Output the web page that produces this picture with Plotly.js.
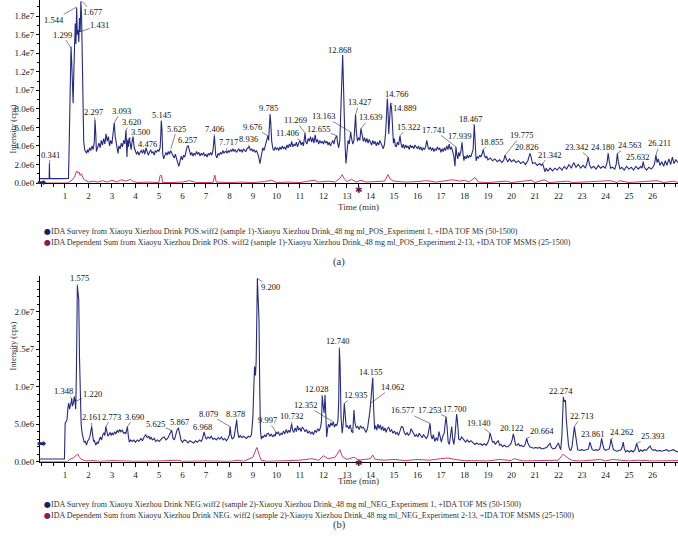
<!DOCTYPE html>
<html>
<head>
<meta charset="utf-8">
<script src="https://cdn.plot.ly/plotly-3.0.1.min.js"></script>
<style>html,body{margin:0;padding:0;background:#fff;}#chart{width:678px;height:540px;}</style>
</head>
<body>
<div id="chart"></div>
<script>
// ---------- DATA (intensity values in units of 1e6 cps) ----------
// Panel (a) POS: IDA survey (blue)
const tSurveyA = [-0.06,0.3,0.33,0.341,0.355,0.8,1.12,1.15,1.17,1.2,1.23,1.26,1.29,1.32,1.35,1.38,1.41,1.44,1.47,1.5,1.53,1.56,1.59,1.62,1.65,1.68,1.71,1.74,1.77,1.8,1.84,1.88,
1.92,1.96,2.0,2.05,2.1,2.15,2.2,2.25,2.28,2.31,2.34,2.4,2.45,2.5,2.55,2.6,2.65,2.7,2.75,2.8,2.85,2.9,2.95,3.0,3.05,3.1,3.14,3.18,3.22,3.26,3.3,3.35,3.4,3.45,3.5,3.55,3.6,3.62,3.64,3.67,3.7,3.74,3.78,3.82,3.86,3.9,3.95,
4.0,4.05,4.1,4.15,4.2,4.25,4.3,4.35,4.4,4.45,4.5,4.55,4.6,4.65,4.7,4.75,4.8,4.85,4.9,4.95,5.0,5.05,5.08,5.1,5.13,5.16,5.2,5.25,5.3,5.35,5.4,5.45,5.5,5.55,5.6,5.65,5.7,5.75,5.8,5.85,5.9,5.95,
6.0,6.05,6.1,6.15,6.2,6.25,6.3,6.35,6.4,6.45,6.5,6.55,6.6,6.65,6.7,6.75,6.8,6.85,6.9,6.95,7.0,7.05,7.1,7.15,7.2,7.25,7.3,7.33,7.36,7.39,7.42,7.47,7.52,7.57,7.62,7.67,7.72,7.77,7.82,7.86,7.9,7.95,
8.0,8.05,8.1,8.15,8.2,8.25,8.3,8.35,8.4,8.45,8.5,8.55,8.6,8.65,8.7,8.75,8.8,8.85,8.9,8.95,9.0,9.05,9.1,9.15,9.2,9.25,9.3,9.33,9.37,9.42,9.47,9.52,9.57,9.62,9.64,9.67,9.7,9.73,9.76,9.8,9.85,9.9,9.95,
10.0,10.05,10.1,10.15,10.2,10.25,10.3,10.35,10.4,10.45,10.5,10.55,10.6,10.65,10.7,10.75,10.8,10.85,10.9,10.95,11.0,11.05,11.1,11.15,11.2,11.22,11.25,11.3,11.35,11.4,11.45,11.5,11.55,11.6,11.65,11.7,11.75,11.8,11.85,11.9,11.95,
12.0,12.05,12.1,12.15,12.2,12.25,12.3,12.35,12.4,12.45,12.5,12.55,12.57,12.6,12.65,12.7,12.74,12.78,12.82,12.85,12.88,12.92,12.96,13.0,13.05,13.1,13.16,13.2,13.25,13.3,13.34,13.37,13.4,13.45,13.5,13.55,13.6,13.65,13.7,13.75,13.8,13.85,13.9,13.95,
14.0,14.05,14.1,14.15,14.2,14.25,14.3,14.35,14.4,14.45,14.5,14.55,14.6,14.65,14.69,14.72,14.75,14.78,14.82,14.86,14.9,14.94,14.98,15.02,15.06,15.1,15.15,15.2,15.26,15.3,15.35,15.4,15.45,15.5,15.55,15.6,15.65,15.7,15.75,15.8,15.85,15.9,15.95,
16.0,16.05,16.1,16.15,16.2,16.25,16.3,16.35,16.4,16.45,16.5,16.55,16.6,16.65,16.7,16.75,16.8,16.85,16.9,16.95,17.0,17.05,17.1,17.15,17.2,17.25,17.3,17.35,17.4,17.45,17.5,17.55,17.6,17.64,17.68,17.72,17.76,17.8,17.85,17.9,17.94,17.98,
18.02,18.07,18.12,18.17,18.22,18.27,18.32,18.37,18.42,18.45,18.5,18.55,18.6,18.65,18.7,18.75,18.8,18.85,18.9,18.95,19.0,19.1,19.2,19.3,19.4,19.5,19.6,19.68,19.73,19.78,19.85,19.92,
20.0,20.1,20.2,20.3,20.4,20.5,20.6,20.7,20.75,20.79,20.84,20.9,21.0,21.1,21.2,21.28,21.33,21.38,21.43,21.48,21.55,21.65,21.75,21.85,21.95,22.05,22.15,22.25,22.35,22.45,22.55,22.65,22.75,22.85,22.95,
23.05,23.15,23.22,23.27,23.32,23.4,23.5,23.6,23.7,23.8,23.9,24.0,24.07,24.12,24.16,24.22,24.3,24.4,24.46,24.51,24.55,24.62,24.7,24.8,24.9,25.0,25.1,25.2,25.3,25.4,25.5,25.56,25.61,25.66,25.75,25.85,25.95,
26.05,26.1,26.15,26.2,26.25,26.32,26.4,26.48,26.55,26.62,26.7,26.78,26.85,26.92,27.0,27.09];
const vSurveyA = [0.47,0.47,0.5,2.1,0.5,0.47,0.5,0.5,2.5,6.5,11,14.7,13,9,8.6,12,15.5,17.2,15,18.9,16,16.5,15.2,17.8,16.3,19.6,18,12,7,4.5,3.6,3.4,
3.2,3.6,3.3,3.8,3.5,4.0,3.6,4.4,6.8,5.5,3.4,3.9,4.3,3.8,4.6,4.1,4.8,4.2,5.3,4.5,5.0,4.0,4.6,4.2,5.2,6.5,5.0,4.4,3.6,3.2,4.0,3.7,4.3,3.9,4.6,4.2,5.7,4.8,2.8,4.6,3.9,4.9,4.3,3.6,4.5,5.0,3.8,
3.5,3.1,3.4,3.0,3.3,3.5,3.2,3.6,3.1,3.8,3.4,3.0,3.3,3.6,3.2,3.4,3.0,3.5,3.3,3.6,3.4,3.8,5.2,6.7,5.8,3.2,2.6,2.9,3.3,3.0,3.4,3.1,3.5,3.2,3.0,2.7,3.1,2.5,2.2,1.8,2.6,2.9,
2.5,3.0,2.8,3.4,3.9,4.0,3.4,3.0,3.3,2.9,3.2,3.0,3.4,3.1,3.3,2.9,3.2,3.0,3.3,2.9,3.1,2.8,3.2,3.0,3.3,3.0,3.5,4.4,5.1,4.0,3.0,2.7,3.2,3.0,3.3,3.1,3.5,3.2,3.4,3.4,3.2,3.5,
3.3,3.6,3.4,3.7,3.4,3.6,3.3,3.5,3.7,3.4,3.6,3.3,3.7,3.5,3.4,3.7,3.8,3.9,3.5,3.7,3.4,3.6,3.3,3.5,3.2,2.8,2.1,2.6,3.4,3.8,3.5,3.9,4.3,4.8,5.1,4.6,6.0,7.4,6.5,4.5,3.7,3.5,3.9,
3.6,3.8,3.5,3.9,3.6,4.0,3.7,3.9,3.6,4.1,3.8,4.2,3.9,4.5,3.9,4.2,4.0,4.4,3.9,4.3,4.6,4.1,4.4,4.0,4.8,5.4,4.5,4.2,4.8,4.5,5.0,4.4,4.9,4.3,5.2,4.4,4.7,4.2,4.6,4.3,4.5,
4.2,4.6,4.3,4.5,4.1,4.4,4.0,4.3,4.6,4.2,4.8,5.0,5.1,4.4,3.8,4.6,7.5,10.5,13.8,11,7,4.2,2.1,3.5,4.6,4.2,5.5,4.8,4.2,4.6,5.8,7.4,5.6,4.5,4.9,4.6,5.9,5.2,4.5,4.9,4.4,4.8,4.3,4.7,
4.4,4.1,4.6,4.2,4.5,4.0,4.4,4.1,4.6,4.3,4.0,3.7,4.2,5.5,7.5,9.1,7.8,5.3,7.0,8.6,8.1,6.0,4.3,4.8,4.0,3.9,4.4,4.1,5.1,4.3,3.8,4.2,3.7,4.1,3.8,4.0,3.6,4.1,3.8,4.0,3.7,4.1,3.9,
3.7,4.0,3.6,3.9,3.5,3.8,3.6,3.9,4.6,3.9,3.6,3.9,3.5,3.8,3.4,3.7,3.5,3.9,3.6,3.8,3.3,3.7,3.4,3.8,3.5,4.0,3.6,4.2,3.6,3.9,3.4,2.9,1.8,3.9,3.0,2.6,3.3,2.9,3.4,4.4,3.2,2.4,
2.9,2.6,3.0,2.7,3.0,2.8,3.2,3.6,6.3,4.5,2.4,2.8,2.7,3.0,2.8,3.1,3.6,3.0,2.7,2.9,2.5,2.7,2.4,2.6,2.3,2.5,2.2,2.5,3.0,2.6,2.3,2.6,
2.3,2.5,2.2,2.4,2.1,2.3,2.0,2.4,2.9,3.2,2.8,2.1,2.2,1.9,2.1,1.9,2.1,1.5,1.2,1.6,1.3,1.6,1.3,1.6,1.4,1.7,1.4,1.8,1.5,2.0,1.6,2.2,1.7,2.0,1.6,
1.9,1.6,2.2,2.8,2.0,1.6,1.8,1.5,1.9,1.6,1.8,1.6,2.2,3.2,2.4,1.6,1.7,1.5,2.0,3.2,2.3,1.5,1.7,1.4,1.8,1.5,1.7,1.4,1.8,1.5,1.8,1.6,2.3,1.7,1.4,1.7,1.5,
1.8,2.2,3.0,2.2,2.6,1.9,2.3,1.8,2.4,1.9,2.6,2.0,2.8,2.1,2.5,2.2];
// Panel (a) POS: IDA dependent sum (pink)
const tDepA = [-0.06,1.1,1.2,1.3,1.4,1.5,1.55,1.6,1.65,1.7,1.8,1.9,2.0,2.2,2.4,2.6,2.8,3.0,3.2,3.4,3.6,3.8,3.9,4.1,4.5,5.0,5.05,5.12,5.15,5.6,6.0,6.3,6.6,7.3,7.38,7.44,8.0,8.5,9.0,9.5,9.8,10.0,10.5,11.0,11.3,11.6,11.8,12.2,12.5,12.7,12.8,12.9,13.0,13.2,13.4,13.6,13.8,14.2,14.6,14.75,14.85,15.0,15.5,16.0,16.4,16.8,17.2,17.5,17.8,18.0,18.2,18.45,18.6,19.0,19.8,20.0,20.85,21.0,21.4,21.6,22.4,22.6,23.4,24.2,24.5,24.6,25.0,25.7,26.2,26.5,26.9,27.09];
const vDepA = [0,0,0.15,0.3,0.6,1.3,1.1,1.2,0.8,1.0,0.4,0.2,0.1,0.2,0.1,0.25,0.1,0.3,0.1,0.35,0.2,0.4,0.15,0.05,0.1,0.05,0.8,0.8,0.05,0.05,0.1,0.25,0.05,0.05,0.85,0.1,0.05,0.1,0.05,0.15,0.3,0.05,0.1,0.05,0.2,0.3,0.1,0.2,0.1,0.5,0.9,0.4,0.15,0.4,0.1,0.3,0.1,0.15,0.2,0.9,0.4,0.2,0.1,0.15,0.25,0.1,0.2,0.35,0.2,0.3,0.1,0.6,0.1,0.05,0.2,0.05,0.3,0.05,0.35,0.05,0.2,0.05,0.15,0.25,0.05,0.25,0.05,0.2,0.25,0.05,0.2,0.05];

// Panel (b) NEG: IDA survey (blue)
const tSurveyB = [-0.06,0.9,0.98,1.01,1.05,1.09,1.13,1.16,1.2,1.23,1.27,1.29,1.32,1.36,1.4,1.43,1.46,1.49,1.51,1.53,1.56,1.59,1.62,1.65,1.69,1.73,1.77,1.82,1.87,1.92,1.97,
2.01,2.06,2.11,2.14,2.18,2.22,2.26,2.31,2.37,2.42,2.47,2.51,2.56,2.61,2.66,2.7,2.74,2.78,2.83,2.87,2.92,2.97,3.01,3.06,3.12,3.17,3.23,3.28,3.33,3.38,3.44,3.5,3.55,3.59,3.66,3.7,3.74,3.8,3.86,3.94,
4.0,4.08,4.15,4.23,4.3,4.37,4.44,4.5,4.57,4.62,4.66,4.72,4.8,4.87,4.94,5.01,5.08,5.16,5.23,5.3,5.37,5.45,5.5,5.54,5.6,5.66,5.72,5.77,5.83,5.87,5.94,
6.0,6.08,6.16,6.24,6.32,6.4,6.48,6.56,6.64,6.73,6.8,6.86,6.92,6.97,7.02,7.09,7.16,7.23,7.3,7.37,7.44,7.52,7.59,7.66,7.73,7.8,7.87,7.94,
8.0,8.03,8.07,8.12,8.2,8.26,8.31,8.35,8.4,8.46,8.53,8.6,8.66,8.73,8.8,8.87,8.94,9.0,9.04,9.07,9.11,9.14,9.17,9.19,9.22,9.26,9.29,9.32,9.36,9.4,9.44,9.5,9.55,9.6,9.66,9.72,9.78,9.84,9.9,9.95,9.98,
10.02,10.08,10.14,10.2,10.25,10.3,10.36,10.42,10.47,10.52,10.58,10.62,10.65,10.69,10.74,10.8,10.85,10.9,10.95,11.0,11.05,11.1,11.16,11.22,11.28,11.34,11.4,11.46,11.52,11.58,11.64,11.7,11.76,11.82,11.88,11.92,11.95,11.99,
12.03,12.07,12.1,12.14,12.18,12.22,12.27,12.32,12.37,12.42,12.47,12.52,12.57,12.62,12.65,12.68,12.71,12.75,12.8,12.84,12.89,12.93,12.97,13.02,13.08,13.14,13.2,13.25,13.3,13.34,13.4,13.46,13.52,13.58,13.64,13.7,13.76,13.82,13.88,13.93,13.97,
14.01,14.05,14.1,14.14,14.18,14.22,14.27,14.32,14.37,14.42,14.47,14.52,14.57,14.62,14.67,14.72,14.78,14.84,14.9,14.96,15.02,15.08,15.14,15.2,15.26,15.32,15.38,15.44,15.5,15.56,15.62,15.68,15.73,15.78,15.84,15.9,15.96,
16.02,16.08,16.14,16.2,16.26,16.32,16.38,16.44,16.5,16.54,16.58,16.63,16.68,16.74,16.8,16.86,16.92,16.97,17.02,17.08,17.14,17.18,17.22,17.26,17.31,17.36,17.41,17.46,17.5,17.55,17.6,17.64,17.67,17.71,17.76,17.82,17.88,17.93,17.99,
18.05,18.12,18.2,18.28,18.36,18.44,18.52,18.6,18.68,18.76,18.84,18.92,18.99,19.05,19.09,19.14,19.2,19.26,19.32,19.38,19.44,19.5,19.56,19.63,19.7,19.78,19.85,19.92,19.98,
20.04,20.08,20.12,20.18,20.24,20.3,20.36,20.42,20.5,20.56,20.61,20.65,20.7,20.78,20.86,20.95,21.04,21.12,21.2,21.3,21.4,21.5,21.58,21.64,21.7,21.78,21.86,21.93,
22.0,22.05,22.1,22.15,22.19,22.21,22.25,22.3,22.34,22.38,22.43,22.48,22.53,22.58,22.63,22.68,22.72,22.77,22.82,22.9,23.0,23.1,23.2,23.28,23.34,23.38,23.44,23.52,23.6,23.68,23.76,23.8,23.84,23.88,23.94,
24.0,24.08,24.16,24.2,24.24,24.28,24.34,24.42,24.5,24.58,24.66,24.72,24.76,24.8,24.86,24.94,25.02,25.1,25.18,25.26,25.33,25.38,25.44,25.5,25.58,25.66,25.74,25.82,25.9,25.96,
26.04,26.12,26.2,26.3,26.4,26.5,26.6,26.7,26.8,26.9,27.0,27.09];
const vSurveyB = [0.36,0.36,0.36,5.1,5.4,5.6,7.2,7.8,7.0,7.3,8.0,8.45,7.4,7.8,8.7,8.0,7.0,12,17,23.5,22.5,21.6,14,9,5.1,3.8,3.1,2.6,2.7,2.2,2.8,
2.9,3.3,4.0,4.7,3.6,2.7,2.8,2.2,2.6,2.4,3.0,3.3,2.9,3.6,3.8,3.5,4.67,3.8,3.4,3.6,3.9,3.5,3.8,3.6,4.0,3.7,4.2,3.9,4.3,4.0,4.2,3.8,3.9,3.7,4.67,3.4,2.6,2.9,2.7,2.9,
2.6,2.9,2.7,3.1,2.8,3.3,3.6,3.2,3.4,3.0,3.3,2.9,3.1,2.7,2.9,2.7,3.0,3.2,3.3,2.9,3.1,3.6,3.9,4.2,3.1,2.9,3.6,4.2,4.5,3.8,2.9,
2.6,2.9,2.8,2.5,2.8,2.6,2.5,2.8,2.6,2.9,2.7,3.1,3.96,3.4,3.0,3.3,3.1,3.4,3.0,3.1,2.9,3.2,3.0,3.3,2.9,3.1,2.8,3.1,
3.6,4.67,3.5,3.0,3.3,4.5,5.56,4.0,3.2,3.5,3.2,3.4,3.3,3.1,3.4,3.3,3.6,6.0,10,12.7,11.5,13.5,20,24.45,22,18.9,10,4.2,3.0,3.4,3.2,3.6,3.3,3.7,3.8,3.4,3.7,3.3,3.6,3.4,3.96,
3.7,4.0,3.5,3.8,3.6,4.1,3.7,4.3,3.8,4.2,3.9,4.6,5.0,4.2,3.9,4.5,4.0,4.8,4.2,4.5,4.0,4.6,4.4,4.0,4.3,3.8,4.1,3.7,4.0,3.6,4.2,3.9,4.4,4.1,4.6,5.5,8.8,7.5,
6.5,8.9,7.0,3.3,4.4,5.0,4.6,5.2,4.8,5.3,4.6,5.0,4.8,5.5,8.0,15.1,13.0,6.0,3.8,5.0,7.8,6.5,4.6,4.8,4.4,4.9,4.0,3.9,6.9,5.2,4.5,4.7,4.3,4.8,4.5,4.6,4.2,3.9,4.5,5.5,6.5,
7.8,9.0,11.2,7.0,4.3,4.8,4.2,5.0,4.4,4.9,4.2,4.7,4.1,4.5,3.9,4.4,4.6,4.0,4.3,3.8,4.1,3.7,3.9,3.5,4.0,4.7,4.6,3.9,3.6,3.9,3.5,3.8,4.4,4.1,3.7,3.4,3.6,
3.3,3.8,3.5,3.2,3.6,3.3,3.1,3.4,4.2,5.1,3.5,3.0,3.6,2.7,3.2,2.8,4.0,3.3,2.6,3.4,3.8,5.0,6.0,4.8,2.6,2.3,3.8,4.7,3.1,2.3,3.5,5.5,6.36,5.2,3.0,2.9,3.3,3.1,2.8,
2.6,2.9,2.6,2.8,2.5,2.3,2.5,2.3,2.4,2.2,2.4,2.2,2.5,3.0,3.8,3.3,2.6,2.7,2.3,2.6,2.8,2.2,2.3,2.0,2.2,2.0,2.0,2.2,2.4,
3.0,3.7,3.2,2.2,2.2,2.4,2.1,2.2,2.0,2.1,2.6,3.1,2.5,2.0,1.9,1.8,1.9,1.8,1.9,1.7,1.8,1.9,2.2,2.5,1.9,1.7,1.8,2.2,
2.5,2.0,1.6,3.5,7.5,8.6,8.0,8.2,5.5,3.4,2.2,1.6,1.5,2.0,3.2,4.67,3.8,2.2,1.6,1.5,1.6,1.5,1.6,1.7,2.6,2.2,1.6,1.5,1.6,1.5,1.7,2.3,3.1,2.4,1.7,
1.5,1.6,1.7,2.2,3.0,2.4,1.6,1.5,1.4,1.5,1.6,2.0,2.6,1.8,1.3,1.5,1.3,1.5,1.3,1.6,2.45,1.9,1.3,1.6,1.4,1.6,1.5,1.8,2.1,1.7,
1.5,1.6,1.4,1.5,1.4,1.5,1.6,1.4,1.5,1.6,1.4,1.3];
// Panel (b) NEG: IDA dependent sum (pink)
const tDepB = [-0.06,1.1,1.2,1.35,1.5,1.55,1.6,1.7,1.9,2.2,2.5,3.0,3.5,4.0,5.0,5.8,6.0,7.0,8.0,8.4,8.6,9.0,9.1,9.17,9.25,9.35,9.6,10.5,11.0,11.5,11.8,12.0,12.2,12.5,12.7,12.8,13.0,13.3,13.5,14.0,14.1,14.2,14.6,15.0,15.5,16.0,16.5,17.0,17.3,17.6,18.0,19.0,19.5,20.0,20.1,20.5,21.0,21.5,22.0,22.2,22.4,22.6,23.0,23.8,24.0,24.3,25.0,25.4,26.0,27.09];
const vDepB = [0,0,0.3,0.5,0.9,1.0,0.7,0.3,0.1,0.15,0.05,0.15,0.1,0.05,0.1,0.2,0.05,0.1,0.05,0.2,0.05,0.6,1.4,1.9,1.1,0.2,0.05,0.1,0.2,0.4,0.2,0.8,0.4,0.6,1.6,0.7,0.3,0.6,0.2,0.4,0.9,0.3,0.2,0.3,0.15,0.3,0.2,0.4,0.5,0.3,0.15,0.1,0.3,0.15,0.4,0.1,0.1,0.2,0.2,1.0,0.5,0.15,0.1,0.3,0.1,0.3,0.1,0.2,0.1,0.15];

// Peak labels (retention times) with anchor (time, intensity)
const peakLabelsA = ['0.341','1.299','1.544','1.677','1.431','2.297','3.093','3.620','3.500','4.476','5.145','5.625','6.257','7.406','7.717','8.936','9.676','9.785','11.406','11.269','12.655','13.163','12.868','13.427','13.639','14.766','14.889','15.322','17.741','17.939','18.467','18.855','19.775','20.826','21.342','23.342','24.180','24.563','25.632','26.211'];
const peakAnchorTA = [0.341,1.26,1.51,1.73,1.64,2.28,3.10,3.60,3.64,4.24,5.10,5.51,6.21,7.36,7.86,8.83,9.64,9.73,11.0,11.22,12.57,13.16,12.82,13.37,13.6,14.72,14.86,15.26,17.64,17.9,18.42,18.8,19.73,20.79,21.33,23.27,24.12,24.51,25.61,26.15];
const peakAnchorVA = [2.1,14.6,19.0,19.6,16.3,6.8,6.5,5.7,4.6,3.5,6.7,3.7,3.96,5.1,3.4,3.85,5.1,7.4,4.6,5.4,5.1,5.5,13.7,7.4,5.9,9.1,8.6,5.1,3.9,4.4,6.3,3.6,3.0,3.2,2.1,2.8,3.2,3.2,2.3,3.0];
const peakLabelsB = ['1.575','1.348','1.220','2.161','2.773','3.690','5.625','5.867','6.968','8.079','8.378','9.200','9.997','10.732','12.028','12.352','12.740','12.935','14.155','14.062','16.577','17.253','17.700','19.140','20.122','20.664','22.274','22.713','23.861','24.262','25.393'];
const peakAnchorTB = [1.53,1.29,1.43,2.14,2.74,3.66,5.54,5.83,6.92,8.03,8.31,9.19,9.98,10.65,11.95,12.42,12.68,12.89,14.1,14.01,16.54,17.22,17.67,19.09,20.08,20.65,22.21,22.68,23.84,24.24,25.33];
const peakAnchorVB = [23.5,8.45,8.0,4.7,4.67,4.67,4.2,4.5,3.96,4.67,5.56,24.45,3.96,5.0,8.8,5.3,15.1,7.8,11.2,7.8,5.1,6.0,6.36,3.8,3.7,3.1,8.6,4.67,3.1,3.0,2.45];

const xTickVals = [1,2,3,4,5,6,7,8,9,10,11,12,13,14,15,16,17,18,19,20,21,22,23,24,25,26];
const yTickValsA = [0,2,4,6,8,10,12,14,16,18];
const yTickTextA = ['0.0e0','2.0e6','4.0e6','6.0e6','8.0e6','1.0e7','1.2e7','1.4e7','1.6e7','1.8e7'];
const yTickValsB = [0,5,10,15,20];
const yTickTextB = ['0.0e0','5.0e6','1.0e7','1.5e7','2.0e7'];

const legendA = ['IDA Survey from Xiaoyu Xiezhou Drink POS.wiff2 (sample 1)-Xiaoyu Xiezhou Drink_48 mg ml_POS_Experiment 1, +IDA TOF MS (50-1500)',
                 'IDA Dependent Sum from Xiaoyu Xiezhou Drink POS. wiff2 (sample 1)-Xiaoyu Xiezhou Drink_48 mg ml_POS_Experiment 2-13, +IDA TOF MSMS (25-1500)'];
const legendB = ['IDA Survey from Xiaoyu Xiezhou Drink NEG.wiff2 (sample 2)-Xiaoyu Xiezhou Drink_48 mg ml_NEG_Experiment 1, +IDA TOF MS (50-1500)',
                 'IDA Dependent Sum from Xiaoyu Xiezhou Drink NEG. wiff2 (sample 2)-Xiaoyu Xiezhou Drink_48 mg ml_NEG_Experiment 2-13, +IDA TOF MSMS (25-1500)'];

// ---------- LAYOUT / STYLE ----------
const W = 678, H = 540;
const px = x => x / W;
const py = y => 1 - y / H;
const serif = 'Liberation Serif, Times New Roman, serif';
const blue = '#262a82', pink = '#d8336e';
const dotBlue = '#1c2063', dotRed = '#8c1c48';

// label text offsets (pixels, relative to anchor)
const offA = [[1,-9],[-9,-13],[-23,13],[10,11],[20,-7],[-1,-8],[7,-12],[5,-8],[14,-8],[6,-7],[0,-6],[6,-20],[0,-6],[0,-7],[2,-9],[0,-8],[-15,-9],[-2,-6],[-12,-7],[-10,-13],[-18,-7],[-27,-16],[-3,-6],[4,-12],[9,-11],[9,-5],[14,5],[8,-9],[-22,-17],[-3,-6],[-4,-6],[8,-8],[16,-20],[-3,-6],[7,-9],[-12,-10],[-6,-6],[12,-8],[-6,-5],[4,-12]];
const offB = [[2,-7],[-8,-7],[17,-8],[0,-9],[6,-10],[7,-10],[-16,-6],[1,-6],[-2,-5],[-22,-13],[-1,-6.5],[13,9],[-8,-12],[0,-8],[-6,-6.5],[-28,-17],[-2,-7],[11,-8],[-2,-5.5],[22,-16],[-27.5,-13],[-17,-7],[-2,-5.5],[-12,-10],[-2,-5.5],[15,-7],[-2,-6.3],[7,-11],[-9,-4],[10,-7],[16,-7]];

const traces = [
  {x: tSurveyA, y: vSurveyA, type: 'scatter', mode: 'lines', line: {color: blue, width: 1.1}, xaxis: 'x', yaxis: 'y', hoverinfo: 'skip'},
  {x: tDepA, y: vDepA, type: 'scatter', mode: 'lines', line: {color: pink, width: 1}, xaxis: 'x', yaxis: 'y', hoverinfo: 'skip'},
  {x: tSurveyB, y: vSurveyB, type: 'scatter', mode: 'lines', line: {color: blue, width: 1.1}, xaxis: 'x2', yaxis: 'y2', hoverinfo: 'skip'},
  {x: tDepB, y: vDepB, type: 'scatter', mode: 'lines', line: {color: pink, width: 1}, xaxis: 'x2', yaxis: 'y2', hoverinfo: 'skip'}
];

const annotations = [];
function addPeakLabels(labels, ts, vs, offs, xr, yr) {
  labels.forEach((lab, i) => {
    annotations.push({
      x: ts[i], y: vs[i], xref: xr, yref: yr, text: lab,
      showarrow: true, arrowhead: 0, arrowwidth: 0.6, arrowcolor: '#333',
      ax: offs[i][0], ay: offs[i][1], standoff: 0, borderpad: 0,
      font: {family: serif, size: 8.5, color: '#111'}
    });
  });
}
addPeakLabels(peakLabelsA, peakAnchorTA, peakAnchorVA, offA, 'x', 'y');
addPeakLabels(peakLabelsB, peakAnchorTB, peakAnchorVB, offB, 'x2', 'y2');

function txt(x, y, text, size, color, extra) {
  annotations.push(Object.assign({x: px(x), y: py(y), xref: 'paper', yref: 'paper', text: text, showarrow: false,
    borderpad: 0, font: {family: serif, size: size, color: color}}, extra || {}));
}
// axis titles
txt(6, 104, 'Intensity (cps)', 8.5, '#333', {textangle: -90});
txt(6, 372, 'Intensity (cps)', 8.5, '#333', {textangle: -90});
txt(358, 207, 'Time (min)', 9, '#333');
txt(358, 487, 'Time (min)', 9, '#333');
// legends
[[legendA, 231], [legendB, 510]].forEach(([lg, y0]) => {
  txt(42.5, y0, '●', 8, dotBlue, {font: {family: 'DejaVu Sans', size: 8, color: dotBlue}});
  txt(42.5, y0 + 11, '●', 8, dotRed, {font: {family: 'DejaVu Sans', size: 8, color: dotRed}});
  txt(49.5, y0, lg[0], 8, '#333', {xanchor: 'left'});
  txt(49.5, y0 + 11, lg[1], 8, '#333', {xanchor: 'left'});
});
txt(339, 262, '(a)', 10.5, '#333');
txt(339, 532, '(b)', 10.5, '#333');
// arrow markers and asterisks
txt(35.5, 174.5, '<b>➡</b>', 11, '#1f2a6e', {font: {family: 'DejaVu Sans', size: 11, color: '#1f2a6e'}});
txt(35.5, 450.5, '<b>➡</b>', 11, '#1f2a6e', {font: {family: 'DejaVu Sans', size: 11, color: '#1f2a6e'}});
txt(358.5, 190, '✱', 9, '#5e1755', {font: {family: 'DejaVu Sans', size: 9, color: '#5e1755'}});
txt(358.5, 468.5, '✱', 9, '#5e1755', {font: {family: 'DejaVu Sans', size: 9, color: '#5e1755'}});

const xCommon = {
  range: [-0.06, 27.09], tickvals: xTickVals, ticktext: xTickVals.map(String),
  showline: true, linecolor: '#000', linewidth: 1, ticks: 'outside', ticklen: 4, tickcolor: '#000', tickwidth: 1,
  minor: {ticks: 'outside', ticklen: 3, dtick: 0.5, tick0: 0, tickcolor: '#000'},
  showgrid: false, zeroline: false, tickfont: {family: serif, size: 9, color: '#222'}, fixedrange: true
};
const yCommon = {
  showline: true, linecolor: '#000', linewidth: 1, ticks: 'outside', ticklen: 3, tickcolor: '#000', tickwidth: 1,
  minor: {ticks: 'outside', ticklen: 2, dtick: 1, tick0: 0, tickcolor: '#000'},
  showgrid: false, zeroline: false, tickfont: {family: serif, size: 9, color: '#222'}, fixedrange: true
};

const layout = {
  width: W, height: H, margin: {l: 0, r: 0, t: 0, b: 0},
  paper_bgcolor: '#fff', plot_bgcolor: '#fff', showlegend: false,
  xaxis: Object.assign({}, xCommon, {domain: [px(40), 1], anchor: 'y'}),
  yaxis: Object.assign({}, yCommon, {domain: [py(183), 1], range: [0, 19.74], anchor: 'x', tickvals: yTickValsA, ticktext: yTickTextA}),
  xaxis2: Object.assign({}, xCommon, {domain: [px(40), 1], anchor: 'y2'}),
  yaxis2: Object.assign({}, yCommon, {domain: [py(461.7), py(276)], range: [0, 24.76], anchor: 'x2', tickvals: yTickValsB, ticktext: yTickTextB}),
  annotations: annotations
};

Plotly.newPlot('chart', traces, layout, {displayModeBar: false, staticPlot: true});
</script>
</body>
</html>
